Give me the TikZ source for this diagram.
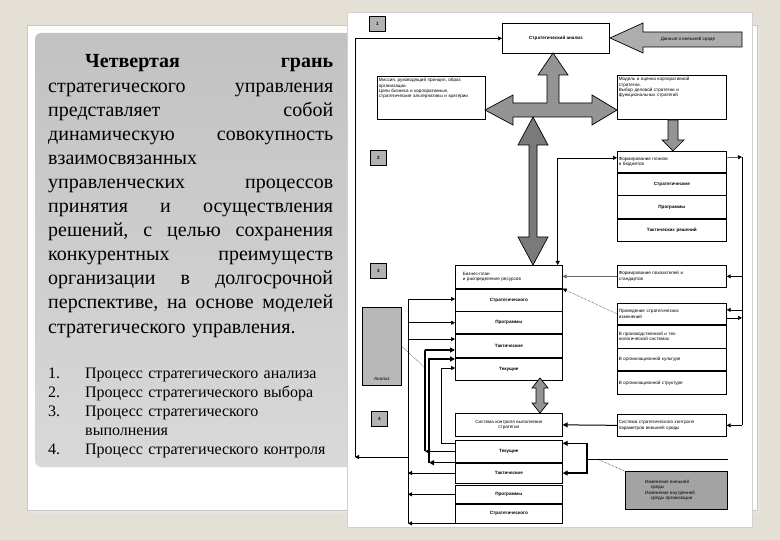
\documentclass[tikz,border=0pt]{standalone}
\usepackage{fontspec}
\setmainfont{Liberation Serif}
\setsansfont{Liberation Sans}
\usetikzlibrary{arrows.meta,positioning,calc}
\definecolor{bgbeige}{RGB}{228,224,214}
\newcommand{\scanfont}{\sffamily\fontsize{4.6}{5.3}\selectfont}

\begin{document}
\begin{tikzpicture}[x=1pt, y=-1pt,
  box/.style={draw, line width=0.7pt, fill=white, inner sep=1.5pt,
    anchor=north west, font=\scanfont},
  midrow/.style={box, text width=104pt, align=center,
    font=\scanfont\bfseries, minimum height=#1},
  sidemid/.style={box, text width=106pt, align=center,
    font=\scanfont\bfseries, minimum height=#1},
  siderow/.style={box, text width=106pt, align=left, minimum height=#1},
  numbox/.style={draw, line width=0.8pt, fill=black!30, anchor=north west,
    minimum width=16pt, minimum height=15pt, inner sep=0pt,
    font=\scanfont\bfseries},
  bigarrow/.style={draw=black, line width=0.7pt, fill=black!42},
  flow/.style={-{Triangle[length=4pt,width=4pt]}, line width=0.5pt},
  flowboth/.style={{Triangle[length=4pt,width=4pt]}-{Triangle[length=4pt,width=4pt]},
    line width=0.5pt},
  heavy/.style={-{Triangle[length=5pt,width=5pt]}, line width=1.3pt},
  dotline/.style={densely dotted, line width=0.5pt}]

  % slide background and panel
  \fill[bgbeige] (0,0) rectangle (780,540);
  \fill[black!10] (30,28) rectangle (760,513);
  \draw[black!22, fill=white] (27,25) rectangle (757,510);
  \shade[rounded corners=6pt, top color=black!24, bottom color=black!15]
    (35,33) rectangle (362,467);

  % text of the slide
  \node[anchor=base west, inner sep=0pt, text width=285pt, align=left,
    font=\fontsize{20}{24.1}\selectfont] (facet) at (48,68) {%
    \hspace*{37pt}\textbf{Четвертая}\hfill\textbf{грань}\\
    стратегического\hfill управления\\
    представляет\hfill собой\\
    динамическую\hfill совокупность\\
    взаимосвязанных\\
    управленческих\hfill процессов\\
    принятия\hfill и\hfill осуществления\\
    решений,\hfill с\hfill целью\hfill сохранения\\
    конкурентных\hfill преимуществ\\
    организации\hfill в\hfill долгосрочной\\
    перспективе,\hfill на\hfill основе\hfill моделей\\
    стратегического управления.};
  \node[anchor=base west, inner sep=0pt, text width=292pt, align=left,
    font=\fontsize{16}{19.2}\selectfont] (steps) at (48,378) {%
    \makebox[37pt][l]{1.}Процесс стратегического анализа\\
    \makebox[37pt][l]{2.}Процесс стратегического выбора\\
    \makebox[37pt][l]{3.}Процесс стратегического\\
    \hspace*{37pt}выполнения\\
    \makebox[37pt][l]{4.}Процесс стратегического контроля};

  % scanned scheme
  \draw[black!18, fill=white] (347,12) rectangle (752,527);

  % stage numbers
  \node[numbox] (n1) at (369,16) {1};
  \node[numbox] (n2) at (370,150) {2};
  \node[numbox] (n3) at (370,263) {3};
  \node[numbox] (n4) at (371,411) {4};

  % stage 1
  \node[box, minimum width=107pt, minimum height=30pt, font=\scanfont\bfseries]
    (anal) at (502,23) {Стратегический анализ};
  \node[box, text width=105pt, align=left, text height=4pt, text depth=36pt]
    (mission) at (377,76) {Миссия, руководящий принцип, образ\\организации.\\
    Цели бизнеса и корпоративные,\\стратегические альтернативы и критерии};
  \node[box, text width=106pt, align=left, text height=4pt, text depth=37pt]
    (corpstrat) at (617,75) {Модель и оценка корпоративной\\стратегии.\\
    Выбор деловой стратегии и\\функциональных стратегий};

  % stage 2
  \node[siderow=21pt] (plan1) at (617,151) {Формирование планов\\и бюджетов};
  \node[sidemid=22pt, below=0pt of plan1] (plan2) {Стратегические};
  \node[sidemid=23pt, below=0pt of plan2] (plan3) {Программы};
  \node[sidemid=22pt, below=0pt of plan3] (plan4) {Тактических решений};

  % stage 3
  \node[box, text width=104pt, align=left, minimum height=23pt, font=\scanfont]
    (exec1) at (455,265) {\hspace*{6pt}Бизнес-план\\\hspace*{6pt}и распределение ресурсов};
  \node[midrow=22pt, below=0pt of exec1] (exec2) {Стратегического};
  \node[midrow=22pt, below=0pt of exec2] (exec3) {Программы};
  \node[midrow=23pt, below=0pt of exec3] (exec4) {Тактические};
  \node[midrow=22pt, below=0pt of exec4] (exec5) {Текущие};
  \node[siderow=22pt] (norms) at (617,265) {Формирование показателей и\\стандартов};
  \node[siderow=21pt] (chg1) at (617,303) {Проведение стратегических\\изменений};
  \node[siderow=23pt, below=0pt of chg1] (chg2) {В производственной и тех-\\нологической системах};
  \node[siderow=22pt, below=0pt of chg2] (chg3) {В организационной культуре};
  \node[siderow=23pt, below=0pt of chg3] (chg4) {В организационной структуре};
  \node[box, fill=black!28, text width=36pt, align=center, text height=72pt,
    text depth=3pt] (audit) at (362,307) {\itshape Анализ};

  % stage 4
  \node[box, text width=104pt, align=center, minimum height=23pt]
    (ctrl) at (455,413) {Система контроля выполнения\\стратегии};
  \node[siderow=22pt] (monit) at (617,414)
    {Система стратегического контроля\\параметров внешней среды};
  \node[midrow=22pt] (rev1) at (455,440) {Текущие};
  \node[midrow=20pt, below=0pt of rev1] (rev2) {Тактические};
  \node[midrow=18pt] (rev3) at (455,485) {Программы};
  \node[midrow=19pt, below=0pt of rev3] (rev4) {Стратегического};
  \node[box, fill=black!36, text width=99pt, align=left, minimum height=38pt]
    (envchg) at (625,471) {\hspace*{18pt}Изменения внешней\\\hspace*{24pt}среды\\
    \hspace*{18pt}Изменения внутренней\\\hspace*{24pt}среды организации};

  % big grey arrows
  \filldraw[bigarrow] (485,110) -- (513,95) -- (513,103) -- (547,103)
    -- (547,75) -- (538,75) -- (553,53) -- (568,75) -- (559,75) -- (559,103)
    -- (592,103) -- (592,95) -- (617,110) -- (592,125) -- (592,117)
    -- (513,117) -- (513,125) -- cycle;
  \filldraw[bigarrow, fill=black!52] (533,117) -- (548,145) -- (537,145)
    -- (537,237) -- (548,237) -- (533,265) -- (518,237) -- (529,237)
    -- (529,145) -- (518,145) -- cycle;
  \filldraw[bigarrow, fill=black!32] (610,38) -- (643,23) -- (643,32)
    -- (742,32) -- (742,47) -- (643,47) -- (643,53) -- cycle;
  \node[font=\scanfont, inner sep=0pt] (envdata) at (688,39.5) {Данные о внешней среде};
  \filldraw[bigarrow] (668,120) -- (678,120) -- (678,140) -- (684,140)
    -- (673,151) -- (662,140) -- (668,140) -- cycle;
  \filldraw[bigarrow] (540,378) -- (548,388) -- (544,388) -- (544,403)
    -- (548,403) -- (540,413) -- (532,403) -- (536,403) -- (536,388)
    -- (532,388) -- cycle;

  % feedback loop on the left
  \coordinate (busA) at (408,299);
  \coordinate (loopB) at (355,457);
  \coordinate (t4) at ([yshift=-5pt]exec4.north west);
  \draw[line width=0.5pt] (busA) -- (busA |- rev4.south west);
  \draw[flow] (busA) -- (busA -| exec2.west);
  \draw[flow] (busA |- exec3.west) -- (exec3.west);
  \draw[flow] (busA |- t4) -- (t4);
  \draw[flow] (rev2.west) -- (rev2.west -| busA);
  \draw[flow] (rev3.west) -- (rev3.west -| busA);
  \draw[flow] (rev4.south west) -- (rev4.south west -| busA);
  \draw[flow] (busA |- loopB) -- (loopB);
  \draw[flow] (loopB) |- (anal.west);

  % thick links between control and execution
  \coordinate (tk1) at (425,350);
  \coordinate (tk2) at (429,359);
  \draw[heavy] (rev1.west) -- (rev1.west -| tk1);
  \draw[heavy] (rev1.south west) -- (rev1.south west -| tk2);
  \draw[line width=1.3pt] (tk1 |- rev1.west) -- (tk1);
  \draw[heavy] (tk1) -- (tk1 -| exec4.west);
  \draw[heavy] (tk2 |- rev1.south west) -- (tk2) -- (tk2 -| exec5.west);
  \coordinate (tn) at (441,368);
  \coordinate (t5) at ([yshift=-3pt]rev1.north west);
  \draw[flow] (t5) -| (tn) -- (tn -| exec5.west);
  \draw[dotline] (audit.east) -- (tk1 |- tn);

  % links of plans
  \coordinate (t1) at ([yshift=4pt]plan1.west);
  \draw[flowboth] (t1) -| ([xshift=-5pt]exec1.north east);
  \coordinate (busR) at (742,157);
  \draw[flow] ([yshift=4pt]plan1.east) -- (busR);
  \draw[line width=0.5pt] (busR) -- (busR |- monit.east);
  \draw[flow] (busR |- norms.east) -- (norms.east);
  \coordinate (t9) at ([yshift=4pt]chg1.east);
  \coordinate (t10) at ([yshift=-4pt]chg1.east);
  \draw[flow] (busR |- t9) -- (t9);
  \draw[flow] (t10) -- (busR |- t10);
  \draw[flow] (busR |- monit.east) -- (monit.east);
  \draw[flow, black!60] (norms.west) -- (norms.west -| exec1.east);
  \draw[flow, dotline] (chg1.west) -- (exec1.south east);
  \draw[heavy, line width=1pt] (monit.west) -- (ctrl.east);

  % environment changes
  \coordinate (brk) at (587,459);
  \coordinate (t11) at ([yshift=8pt]rev1.east);
  \draw[line width=1pt] (brk) -- (brk -| envchg.east);
  \draw[heavy] (brk) |- (t11);
  \draw[heavy] (brk) |- (rev2.east);
  \draw[dotline] ([xshift=10pt]brk) -- (envchg.north west);
\end{tikzpicture}
\end{document}
